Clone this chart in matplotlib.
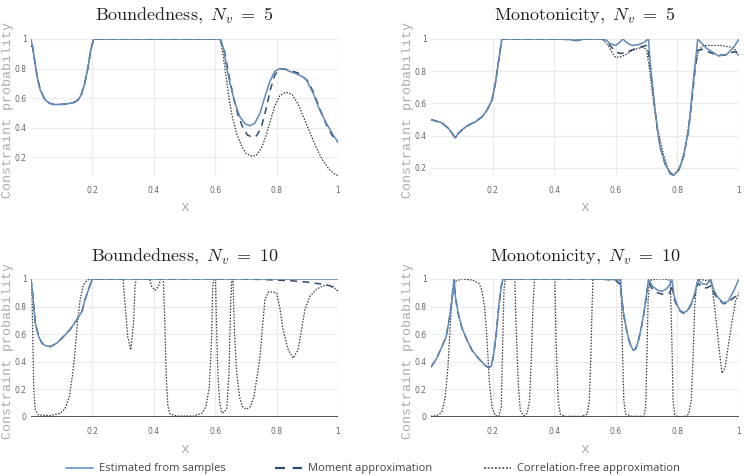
import matplotlib
matplotlib.use("Agg")
import matplotlib.pyplot as plt
from matplotlib.lines import Line2D
from matplotlib.ticker import FuncFormatter

plt.rcParams['mathtext.fontset'] = 'cm'

# ---- data ----
# top-left: Boundedness, Nv = 5
tl_x_left = [0, 0.005, 0.01, 0.02, 0.03, 0.045, 0.06, 0.075, 0.1, 0.12,
             0.14, 0.155, 0.165, 0.175, 0.185, 0.195, 0.204, 0.3, 0.4, 0.5, 0.616]
tl_y_left = [1.0, 0.95, 0.88, 0.745, 0.655, 0.59, 0.565, 0.556, 0.557, 0.562,
             0.57, 0.59, 0.63, 0.7, 0.8, 0.93, 1.0, 1.0, 1.0, 1.0, 1.0]
tl_samp_x = [0.627, 0.637, 0.648, 0.659, 0.67, 0.68, 0.697, 0.713, 0.729, 0.746,
             0.762, 0.778, 0.794, 0.81, 0.827, 0.843, 0.865, 0.887, 0.897, 0.919,
             0.94, 0.962, 0.984, 1.0]
tl_samp_y = [0.937, 0.813, 0.70, 0.61, 0.532, 0.475, 0.426, 0.412, 0.43, 0.498,
             0.61, 0.712, 0.78, 0.80, 0.797, 0.78, 0.764, 0.741, 0.723, 0.633,
             0.52, 0.43, 0.351, 0.30]
tl_mom_x = [0.63, 0.645, 0.66, 0.675, 0.69, 0.705, 0.72, 0.735, 0.75, 0.765,
            0.78, 0.795, 0.81, 0.83, 0.87, 0.9, 0.92, 0.94, 0.96, 0.98, 1.0]
tl_mom_y = [0.92, 0.75, 0.6, 0.48, 0.4, 0.35, 0.335, 0.345, 0.4, 0.52,
            0.66, 0.76, 0.795, 0.795, 0.77, 0.72, 0.64, 0.53, 0.43, 0.35, 0.3]
tl_cf_x = [0.625, 0.635, 0.645, 0.655, 0.67, 0.685, 0.70, 0.72, 0.735, 0.75,
           0.765, 0.78, 0.795, 0.81, 0.83, 0.85, 0.87, 0.89, 0.91, 0.93,
           0.95, 0.97, 0.99, 1.0]
tl_cf_y = [0.9, 0.75, 0.6, 0.48, 0.36, 0.28, 0.225, 0.205, 0.215, 0.26,
           0.34, 0.45, 0.55, 0.615, 0.64, 0.625, 0.56, 0.46, 0.36, 0.26,
           0.18, 0.12, 0.085, 0.075]

# top-right: Monotonicity, Nv = 5
tr_x_left = [0, 0.035, 0.057, 0.074, 0.079, 0.088, 0.106, 0.122, 0.144, 0.166,
             0.182, 0.198, 0.209, 0.22, 0.23, 0.3, 0.4, 0.45, 0.47, 0.5, 0.556]
tr_y_left = [0.50, 0.48, 0.445, 0.40, 0.385, 0.414, 0.445, 0.466, 0.486, 0.517,
             0.559, 0.621, 0.724, 0.87, 1.0, 1.0, 1.0, 0.997, 0.99, 1.0, 1.0]
tr_samp_x = [0.567, 0.583, 0.599, 0.61, 0.623, 0.637, 0.653, 0.675, 0.691, 0.706,
             0.712, 0.723, 0.734, 0.744, 0.76, 0.777, 0.788, 0.804, 0.82, 0.836,
             0.847, 0.858, 0.866, 0.895, 0.934, 0.961, 0.983, 1.0]
tr_samp_y = [0.995, 0.97, 0.96, 0.975, 1.0, 0.975, 0.96, 0.966, 0.978, 1.0,
             0.85, 0.64, 0.455, 0.33, 0.227, 0.165, 0.155, 0.186, 0.269, 0.434,
             0.641, 0.85, 1.0, 0.942, 0.894, 0.906, 0.95, 1.0]
tr_mom_x = [0.575, 0.59, 0.6, 0.615, 0.63, 0.65, 0.67, 0.69, 0.70, 0.706,
            0.712, 0.723, 0.734, 0.744, 0.76, 0.777, 0.788, 0.804, 0.82, 0.836,
            0.847, 0.858, 0.866, 0.88, 0.9, 0.93, 0.96, 0.98, 0.99, 1.0]
tr_mom_y = [0.975, 0.94, 0.92, 0.91, 0.915, 0.93, 0.945, 0.955, 0.96, 0.92,
            0.82, 0.63, 0.45, 0.33, 0.225, 0.163, 0.155, 0.186, 0.27, 0.43,
            0.62, 0.82, 0.93, 0.935, 0.92, 0.9, 0.9, 0.92, 0.92, 0.885]
tr_cf_x = [0.575, 0.59, 0.60, 0.615, 0.63, 0.65, 0.67, 0.69, 0.70, 0.71,
           0.72, 0.735, 0.755, 0.77, 0.788, 0.81, 0.826, 0.842, 0.855, 0.869,
           0.885, 0.94, 0.975, 0.99, 1.0]
tr_cf_y = [0.96, 0.91, 0.885, 0.89, 0.9, 0.925, 0.94, 0.95, 0.93, 0.81,
           0.65, 0.45, 0.28, 0.19, 0.155, 0.207, 0.33, 0.537, 0.81, 0.93,
           0.96, 0.96, 0.95, 0.93, 0.89]

# bottom-left: Boundedness, Nv = 10
bl_samp_x = [0, 0.005, 0.009, 0.014, 0.025, 0.036, 0.047, 0.063, 0.084, 0.106,
             0.128, 0.149, 0.166, 0.176, 0.187, 0.198, 0.205, 0.4, 0.6, 0.8, 1.0]
bl_samp_y = [1.0, 0.9, 0.8, 0.68, 0.583, 0.535, 0.516, 0.51, 0.535, 0.583,
             0.636, 0.704, 0.765, 0.85, 0.922, 0.99, 1.0, 1.0, 1.0, 1.0, 1.0]
bl_mom_x = bl_samp_x[:-3] + [0.65, 0.75, 0.85, 0.9, 0.95, 0.975, 1.0]
bl_mom_y = bl_samp_y[:-3] + [1.0, 0.997, 0.987, 0.977, 0.962, 0.95, 0.92]
bl_cf_x = [0, 0.003, 0.006, 0.009, 0.014, 0.025, 0.063, 0.095, 0.111, 0.125,
           0.136, 0.144, 0.151, 0.16, 0.171, 0.184, 0.2, 0.3, 0.307, 0.315,
           0.325, 0.334, 0.339, 0.343, 0.386, 0.393, 0.404, 0.415, 0.423, 0.431,
           0.436, 0.44, 0.446, 0.453, 0.475, 0.529, 0.556, 0.57, 0.581, 0.588,
           0.592, 0.596, 0.601, 0.605, 0.609, 0.614, 0.621, 0.63, 0.638, 0.645,
           0.65, 0.654, 0.658, 0.663, 0.67, 0.679, 0.689, 0.702, 0.715, 0.726,
           0.737, 0.746, 0.754, 0.762, 0.773, 0.789, 0.8, 0.81, 0.821, 0.838,
           0.854, 0.87, 0.881, 0.892, 0.908, 0.93, 0.951, 0.968, 0.984, 1.0]
bl_cf_y = [0.95, 0.92, 0.56, 0.2, 0.05, 0.015, 0.01, 0.026, 0.06, 0.148,
           0.317, 0.487, 0.68, 0.85, 0.958, 0.995, 1.0, 1.0, 0.8, 0.583,
           0.487, 0.68, 0.95, 1.0, 1.0, 0.947, 0.917, 0.947, 1.0, 1.0,
           0.68, 0.317, 0.075, 0.022, 0.007, 0.007, 0.026, 0.075, 0.22, 0.56,
           0.95, 1.0, 1.0, 0.6, 0.3, 0.12, 0.03, 0.035, 0.063, 0.317,
           0.8, 1.0, 0.98, 0.6, 0.32, 0.148, 0.075, 0.056, 0.075, 0.148,
           0.3, 0.44, 0.65, 0.85, 0.905, 0.907, 0.897, 0.8, 0.631, 0.487,
           0.426, 0.487, 0.63, 0.776, 0.873, 0.927, 0.95, 0.958, 0.945, 0.91]

# bottom-right: Monotonicity, Nv = 10
br_samp_x = [0, 0.018, 0.035, 0.049, 0.059, 0.068, 0.075, 0.079, 0.088, 0.101,
             0.117, 0.133, 0.155, 0.176, 0.187, 0.196, 0.204, 0.212, 0.22, 0.228,
             0.234, 0.4, 0.55, 0.6, 0.614, 0.62, 0.626, 0.633, 0.642, 0.65,
             0.657, 0.665, 0.674, 0.683, 0.691, 0.699, 0.706, 0.718, 0.735, 0.75,
             0.765, 0.776, 0.782, 0.789, 0.799, 0.81, 0.82, 0.832, 0.845, 0.857,
             0.867, 0.88, 0.895, 0.908, 0.918, 0.93, 0.95, 0.965, 0.98, 0.992,
             1.0]
br_samp_y = [0.362, 0.423, 0.508, 0.581, 0.703, 0.849, 1.0, 0.873, 0.752, 0.642,
             0.557, 0.484, 0.423, 0.374, 0.358, 0.37, 0.46, 0.606, 0.8, 0.946,
             1.0, 1.0, 1.0, 0.995, 0.99, 0.85, 0.74, 0.65, 0.56, 0.51,
             0.484, 0.495, 0.56, 0.65, 0.75, 0.87, 1.0, 0.95, 0.92, 0.91,
             0.93, 0.96, 1.0, 0.88, 0.81, 0.77, 0.756, 0.77, 0.82, 0.9,
             1.0, 0.965, 0.96, 1.0, 0.92, 0.87, 0.825, 0.84, 0.9, 0.96,
             1.0]
br_mom_y = [0.362, 0.423, 0.508, 0.581, 0.703, 0.849, 0.99, 0.873, 0.752, 0.642,
            0.557, 0.484, 0.423, 0.374, 0.358, 0.37, 0.46, 0.606, 0.8, 0.946,
            1.0, 1.0, 1.0, 0.99, 0.96, 0.84, 0.74, 0.65, 0.56, 0.51,
            0.484, 0.495, 0.56, 0.65, 0.75, 0.87, 0.98, 0.93, 0.9, 0.89,
            0.89, 0.9, 0.96, 0.86, 0.8, 0.765, 0.752, 0.765, 0.815, 0.89,
            0.97, 0.94, 0.935, 0.95, 0.9, 0.86, 0.82, 0.83, 0.86, 0.88,
            0.885]
br_cf_x = [0, 0.018, 0.035, 0.046, 0.055, 0.063, 0.07, 0.079, 0.1, 0.133,
           0.155, 0.165, 0.174, 0.182, 0.189, 0.198, 0.209, 0.22, 0.228, 0.233,
           0.237, 0.241, 0.272, 0.276, 0.283, 0.29, 0.301, 0.312, 0.32, 0.326,
           0.331, 0.336, 0.402, 0.406, 0.413, 0.42, 0.436, 0.49, 0.507, 0.514,
           0.519, 0.523, 0.526, 0.617, 0.621, 0.626, 0.632, 0.653, 0.691, 0.697,
           0.701, 0.705, 0.71, 0.73, 0.76, 0.777, 0.782, 0.786, 0.791, 0.797,
           0.82, 0.836, 0.845, 0.851, 0.856, 0.862, 0.87, 0.89, 0.905, 0.912,
           0.918, 0.927, 0.936, 0.945, 0.955, 0.966, 0.978, 0.989, 1.0]
br_cf_y = [0.005, 0.01, 0.034, 0.142, 0.362, 0.679, 0.922, 0.983, 1.0, 0.993,
           0.97, 0.922, 0.8, 0.557, 0.265, 0.07, 0.01, 0.005, 0.07, 0.557,
           0.922, 1.0, 1.0, 0.68, 0.25, 0.046, 0.01, 0.025, 0.12, 0.435,
           0.8, 1.0, 1.0, 0.557, 0.12, 0.02, 0.005, 0.005, 0.02, 0.12,
           0.435, 0.8, 1.0, 1.0, 0.557, 0.12, 0.02, 0.005, 0.005, 0.07,
           0.435, 0.85, 0.99, 1.0, 1.0, 0.99, 0.557, 0.12, 0.02, 0.005,
           0.0, 0.02, 0.12, 0.435, 0.8, 0.95, 1.0, 0.99, 0.99, 0.95,
           0.85, 0.68, 0.48, 0.318, 0.36, 0.53, 0.7, 0.84, 0.9]

titles = [r'$\mathrm{Boundedness,}\ N_v\ =\ 5$', r'$\mathrm{Monotonicity,}\ N_v\ =\ 5$',
          r'$\mathrm{Boundedness,}\ N_v\ =\ 10$', r'$\mathrm{Monotonicity,}\ N_v\ =\ 10$']
legend_labels = ['Estimated from samples', 'Moment approximation',
                 'Correlation-free approximation']

# ---- styling ----
c_samp = '#6089b8'
c_mom = '#2f4a6d'
c_cf = '#333942'
grid_c = '#ebebeb'
tick_c = '#666666'
label_c = '#aaaaaa'

W, H = 744, 476
fig = plt.figure(figsize=(W / 100, H / 100), dpi=100)
fig.patch.set_facecolor('white')

def box(x0, y0, x1, y1):
    return [x0 / W, 1 - y1 / H, (x1 - x0) / W, (y1 - y0) / H]

panels = [
    (box(31, 39, 338, 176), (0.072, 1.0), [0.2, 0.4, 0.6, 0.8, 1],
     (tl_x_left + tl_samp_x, tl_y_left + tl_samp_y),
     ([0] + tl_x_left[1:] + tl_mom_x, [0.95] + tl_y_left[1:] + tl_mom_y),
     ([0] + tl_x_left[1:] + tl_cf_x, [0.95] + tl_y_left[1:] + tl_cf_y)),
    (box(431, 39, 739, 176), (0.15, 1.0), [0.2, 0.4, 0.6, 0.8, 1],
     (tr_x_left + tr_samp_x, tr_y_left + tr_samp_y),
     (tr_x_left + tr_mom_x, tr_y_left + tr_mom_y),
     (tr_x_left + tr_cf_x, tr_y_left + tr_cf_y)),
    (box(31, 279, 338, 417), (0.0, 1.0), [0, 0.2, 0.4, 0.6, 0.8, 1],
     (bl_samp_x, bl_samp_y), (bl_mom_x, bl_mom_y), (bl_cf_x, bl_cf_y)),
    (box(431, 279, 739, 417), (0.0, 1.0), [0, 0.2, 0.4, 0.6, 0.8, 1],
     (br_samp_x, br_samp_y), (br_samp_x, br_mom_y), (br_cf_x, br_cf_y)),
]

fmt = FuncFormatter(lambda v, p: f'{v:g}')

for i, (pos, ylim, yticks, samp, mom, cf) in enumerate(panels):
    ax = fig.add_axes(pos)
    ax.set_xlim(0, 1)
    ax.set_ylim(*ylim)
    for s in ax.spines.values():
        s.set_visible(False)
    ax.set_xticks([0.2, 0.4, 0.6, 0.8, 1])
    ax.set_yticks(yticks)
    ax.xaxis.set_major_formatter(fmt)
    ax.yaxis.set_major_formatter(fmt)
    ax.tick_params(length=0, labelsize=5.5, colors=tick_c)
    ax.tick_params(axis='x', pad=7)
    ax.tick_params(axis='y', pad=3)
    ax.grid(True, color=grid_c, lw=0.8)
    ax.set_axisbelow(True)
    if ylim[0] == 0:
        ax.axhline(0, color='#444444', lw=1.3, zorder=1.5)

    ax.plot(cf[0], cf[1], color=c_cf, lw=0.9, dashes=(1.2, 1.2), zorder=3)
    ax.plot(mom[0], mom[1], color=c_mom, lw=1.1, dashes=(4.5, 3.5), zorder=4)
    ax.plot(samp[0], samp[1], color=c_samp, lw=1.1, zorder=5)

    cx = (pos[0] + pos[2] / 2)
    top_px = 16 if i < 2 else 257
    fig.text(cx, 1 - top_px / H, titles[i], ha='center', va='center',
             fontsize=13, color='#222222')
    xl_px = 207 if i < 2 else 449
    fig.text(cx, 1 - xl_px / H, 'x', ha='center', va='center',
             family='Liberation Mono', fontsize=10.5, color=label_c)
    yl_x = 8 if i % 2 == 0 else 408
    yl_y = 110 if i < 2 else 351
    fig.text(yl_x / W, 1 - yl_y / H, 'Constraint probability', rotation=90,
             ha='center', va='center', family='Liberation Mono',
             fontsize=9.5, color=label_c)

handles = [Line2D([], [], color=c_samp, lw=1.1),
           Line2D([], [], color=c_mom, lw=1.6, dashes=(4.5, 3.5)),
           Line2D([], [], color=c_cf, lw=1.1, dashes=(1.2, 1.2))]
for h, lab, x_px in zip(handles, legend_labels, [66, 275, 484]):
    fig.legend(handles=[h], labels=[lab], loc='center left',
               bbox_to_anchor=(x_px / W, 1 - 469 / H), frameon=False,
               borderpad=0, borderaxespad=0, handlelength=2.4,
               handletextpad=0.55,
               prop={'family': 'Open Sans', 'size': 8}, labelcolor='#444444')

fig.savefig('out.png', dpi=100)
